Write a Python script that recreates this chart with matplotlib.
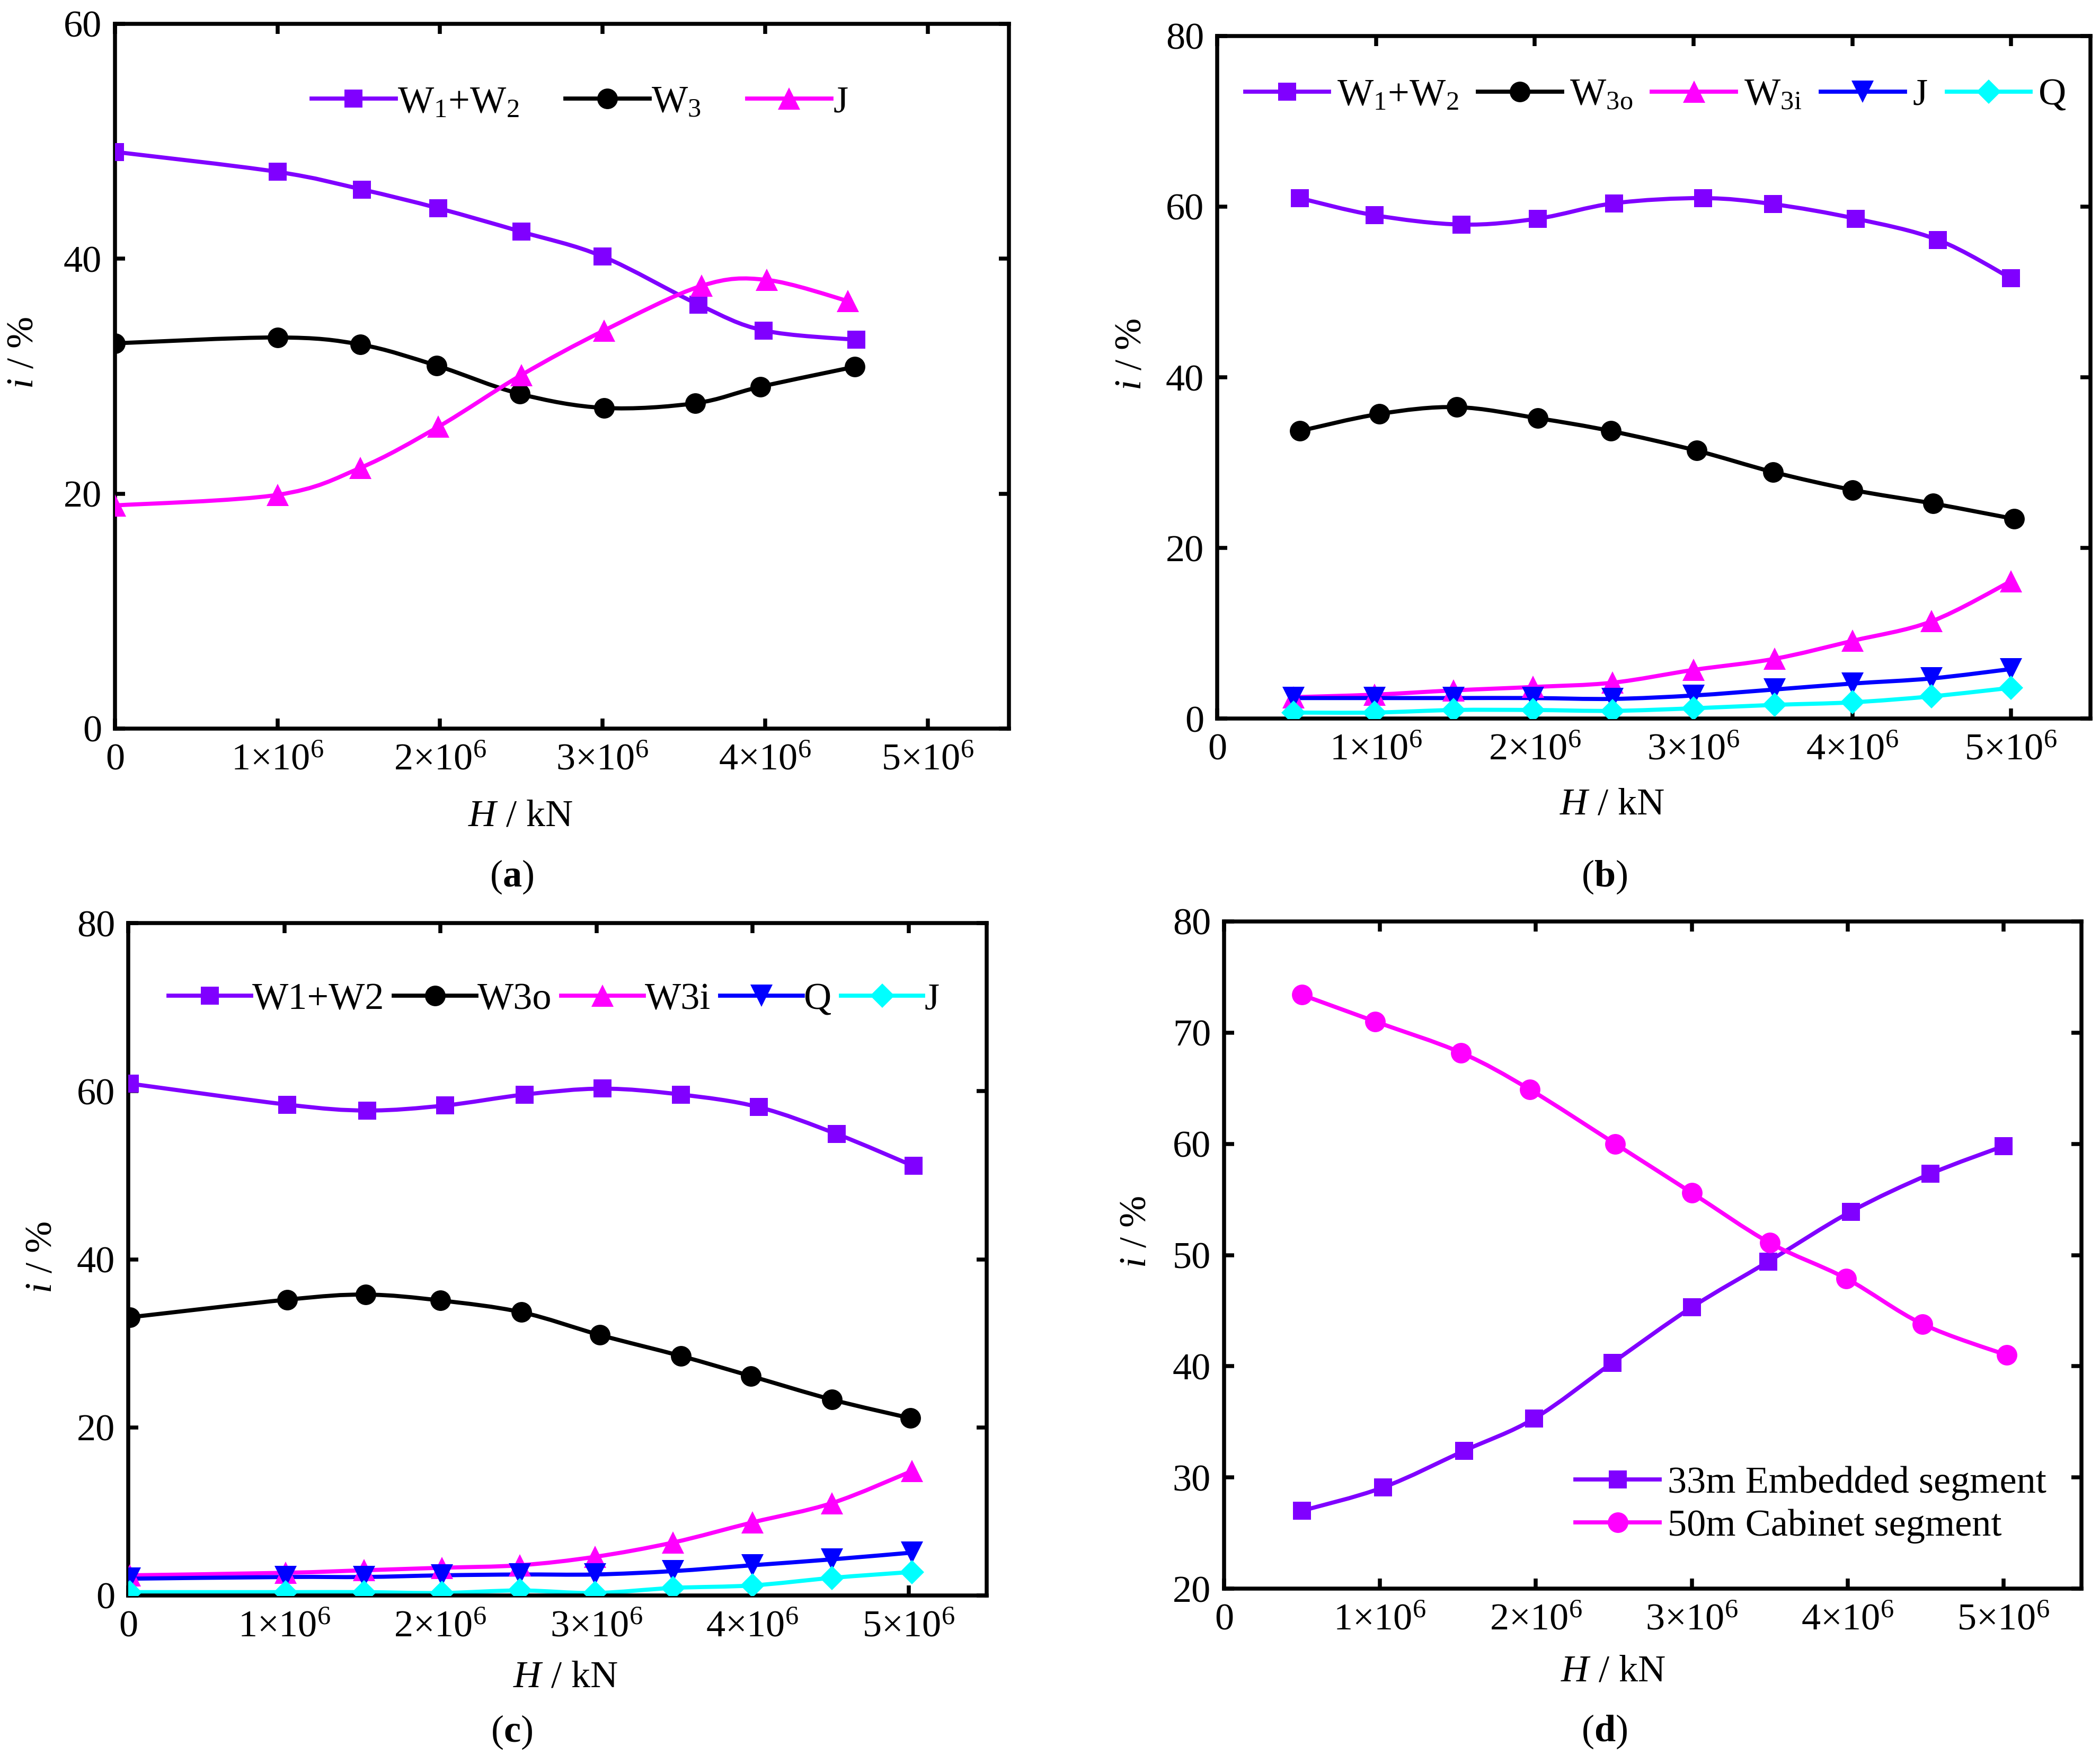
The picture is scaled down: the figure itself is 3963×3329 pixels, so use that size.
import numpy as np
import matplotlib
matplotlib.use("Agg")
import matplotlib.pyplot as plt
from matplotlib.path import Path
from matplotlib.patches import PathPatch
from matplotlib.lines import Line2D

plt.rcParams['font.family'] = ['Liberation Serif', 'DejaVu Serif']
plt.rcParams['mathtext.fontset'] = 'custom'
plt.rcParams['mathtext.rm'] = 'Liberation Serif'
plt.rcParams['mathtext.it'] = 'Liberation Serif:italic'
plt.rcParams['mathtext.bf'] = 'Liberation Serif:bold'

# ---------------- data ----------------
x_ticks = [0, 1e6, 2e6, 3e6, 4e6, 5e6]
x_ticklabels = ['0', '1×10$^6$', '2×10$^6$', '3×10$^6$', '4×10$^6$', '5×10$^6$']

# panel (a)
a_labels = ['W$_1$+W$_2$', 'W$_3$', 'J']
a_x_w12 = [0, 1.00e6, 1.52e6, 1.99e6, 2.50e6, 3.00e6, 3.59e6, 3.99e6, 4.56e6]
a_w12 = [49.1, 47.4, 45.9, 44.3, 42.3, 40.2, 36.1, 33.9, 33.1]
a_x_w3 = [0, 1.00e6, 1.51e6, 1.98e6, 2.49e6, 3.01e6, 3.57e6, 3.97e6, 4.55e6]
a_w3 = [32.8, 33.3, 32.7, 30.9, 28.5, 27.3, 27.7, 29.1, 30.8]
a_x_j = [0, 1.00e6, 1.51e6, 1.99e6, 2.50e6, 3.01e6, 3.61e6, 4.01e6, 4.51e6]
a_j = [19.0, 19.9, 22.2, 25.7, 30.1, 33.9, 37.7, 38.2, 36.4]

# panel (b)
b_labels = ['W$_1$+W$_2$', 'W$_{\\mathrm{3o}}$', 'W$_{\\mathrm{3i}}$', 'J', 'Q']
b_x_w12 = [0.52e6, 0.99e6, 1.54e6, 2.02e6, 2.50e6, 3.06e6, 3.50e6, 4.02e6, 4.54e6, 5.00e6]
b_w12 = [61.0, 59.0, 57.9, 58.6, 60.4, 61.0, 60.3, 58.6, 56.1, 51.6]
b_x_w3o = [0.52e6, 1.02e6, 1.51e6, 2.02e6, 2.48e6, 3.02e6, 3.50e6, 4.00e6, 4.51e6, 5.02e6]
b_w3o = [33.7, 35.7, 36.5, 35.2, 33.7, 31.4, 28.9, 26.8, 25.2, 23.4]
b_x_low = [0.48e6, 0.99e6, 1.49e6, 1.99e6, 2.49e6, 3.00e6, 3.51e6, 4.00e6, 4.50e6, 5.00e6]
b_w3i = [2.5, 2.8, 3.3, 3.7, 4.2, 5.7, 7.0, 9.1, 11.4, 16.1]
b_j = [2.4, 2.4, 2.4, 2.4, 2.3, 2.7, 3.4, 4.1, 4.7, 5.8]
b_q = [0.7, 0.7, 1.0, 1.0, 0.9, 1.2, 1.6, 1.9, 2.6, 3.6]

# panel (c)
c_labels = ['W1+W2', 'W3o', 'W3i', 'Q', 'J']
c_x_w12 = [0.01e6, 1.02e6, 1.53e6, 2.03e6, 2.54e6, 3.04e6, 3.54e6, 4.04e6, 4.54e6, 5.03e6]
c_w12 = [60.9, 58.4, 57.7, 58.3, 59.6, 60.3, 59.6, 58.1, 54.9, 51.1]
c_x_w3o = [0.01e6, 1.02e6, 1.52e6, 2.00e6, 2.52e6, 3.02e6, 3.54e6, 3.99e6, 4.51e6, 5.01e6]
c_w3o = [33.1, 35.2, 35.8, 35.1, 33.7, 31.0, 28.5, 26.1, 23.3, 21.1]
c_x_low = [0.01e6, 1.01e6, 1.51e6, 2.01e6, 2.51e6, 2.99e6, 3.49e6, 4.00e6, 4.51e6, 5.02e6]
c_w3i = [2.4, 2.7, 3.0, 3.3, 3.6, 4.6, 6.3, 8.7, 11.0, 14.8]
c_q = [2.0, 2.2, 2.2, 2.4, 2.5, 2.5, 2.9, 3.6, 4.3, 5.1]
c_j = [0.4, 0.4, 0.4, 0.3, 0.6, 0.3, 0.9, 1.2, 2.1, 2.8]

# panel (d)
d_labels = ['33m Embedded segment', '50m Cabinet segment']
d_x_emb = [0.50e6, 1.02e6, 1.54e6, 1.99e6, 2.49e6, 3.00e6, 3.49e6, 4.02e6, 4.53e6, 5.00e6]
d_emb = [27.0, 29.1, 32.4, 35.3, 40.3, 45.3, 49.4, 53.9, 57.3, 59.8]
d_x_cab = [0.50e6, 0.97e6, 1.52e6, 1.96e6, 2.51e6, 3.00e6, 3.50e6, 3.99e6, 4.48e6, 5.02e6]
d_cab = [73.4, 71.0, 68.2, 64.9, 60.0, 55.6, 51.1, 47.9, 43.8, 41.0]

# ---------------- style ----------------
PURPLE = '#8000FF'
BLACK = '#000000'
MAGENTA = '#FF00FF'
BLUE = '#0000FF'
CYAN = '#00FFFF'
LW = 5.6
FS = 52
SPINE = 5.4

W, H = 3963, 3329
fig = plt.figure(figsize=(W / 100, H / 100), dpi=100)


def ax_at(l, r, t, b):
    return fig.add_axes([l / W, 1 - b / H, (r - l) / W, (b - t) / H])


def smooth(x, y):
    P = np.column_stack([np.asarray(x, float), np.asarray(y, float)])
    n = len(P)
    verts = [P[0]]
    codes = [Path.MOVETO]
    for i in range(n - 1):
        p0 = P[i - 1] if i > 0 else P[i]
        p1 = P[i]
        p2 = P[i + 1]
        p3 = P[i + 2] if i + 2 < n else P[i + 1]
        verts += [p1 + (p2 - p0) / 6.0, p2 - (p3 - p1) / 6.0, p2]
        codes += [Path.CURVE4] * 3
    return Path(np.array(verts), codes)


MS = {'s': 25, 'o': 28, '^': 30, 'v': 30, 'D': 23}


def series(ax, x, y, color, marker):
    ax.add_patch(PathPatch(smooth(x, y), fill=False, edgecolor=color, lw=LW,
                           capstyle='round', joinstyle='round', zorder=2))
    ax.plot(x, y, ls='none', marker=marker, ms=MS[marker], color=color,
            mec=color, mew=0, zorder=3)
    return Line2D([], [], color=color, lw=LW, marker=marker, ms=MS[marker],
                  mew=0)


def style(ax, ylim, yticks):
    ax.set_xlim(0, 5.5e6)
    ax.set_ylim(*ylim)
    ax.set_xticks(x_ticks)
    ax.set_xticklabels(x_ticklabels)
    ax.set_yticks(yticks)
    ax.minorticks_off()
    ax.tick_params(direction='in', top=True, right=True, length=14,
                   width=SPINE, labelsize=FS)
    ax.tick_params(axis='x', pad=20)
    ax.tick_params(axis='y', pad=18)
    for s in ax.spines.values():
        s.set_linewidth(SPINE)


def ftext(px, py, s, rot=0):
    fig.text(px / W, 1 - py / H, s, fontsize=FS, ha='center', va='center',
             rotation=rot)


# ---- (a)
ax = ax_at(217, 1904, 45, 1375)
h = [series(ax, a_x_w12, a_w12, PURPLE, 's'),
     series(ax, a_x_w3, a_w3, BLACK, 'o'),
     series(ax, a_x_j, a_j, MAGENTA, '^')]
style(ax, (0, 60), [0, 20, 40, 60])
ax.legend(h, a_labels, loc='center', bbox_to_anchor=(0.52, 0.888), ncol=3,
          frameon=False, fontsize=FS, handlelength=2.2, handletextpad=0.05,
          columnspacing=1.2, borderpad=0, borderaxespad=0)
ftext(982, 1541, '$H$ / kN')
ftext(44, 666, '$i$ / %', rot=90)
ftext(966, 1655, '($\\mathbf{a}$)')

# ---- (b)
ax = ax_at(2297, 3945, 68, 1356)
h = [series(ax, b_x_w12, b_w12, PURPLE, 's'),
     series(ax, b_x_w3o, b_w3o, BLACK, 'o'),
     series(ax, b_x_low, b_w3i, MAGENTA, '^'),
     series(ax, b_x_low, b_j, BLUE, 'v'),
     series(ax, b_x_low, b_q, CYAN, 'D')]
style(ax, (0, 80), [0, 20, 40, 60, 80])
ax.legend(h, b_labels, loc='center', bbox_to_anchor=(0.502, 0.913), ncol=5,
          frameon=False, fontsize=FS, handlelength=2.2, handletextpad=0.2,
          columnspacing=0.5, borderpad=0, borderaxespad=0)
ftext(3042, 1519, '$H$ / kN')
ftext(2135, 669, '$i$ / %', rot=90)
ftext(3028, 1655, '($\\mathbf{b}$)')

# ---- (c)
ax = ax_at(242, 1862, 1742, 3011)
h = [series(ax, c_x_w12, c_w12, PURPLE, 's'),
     series(ax, c_x_w3o, c_w3o, BLACK, 'o'),
     series(ax, c_x_low, c_w3i, MAGENTA, '^'),
     series(ax, c_x_low, c_q, BLUE, 'v'),
     series(ax, c_x_low, c_j, CYAN, 'D')]
style(ax, (0, 80), [0, 20, 40, 60, 80])
ax.legend(h, c_labels, loc='center', bbox_to_anchor=(0.496, 0.886), ncol=5,
          frameon=False, fontsize=FS, handlelength=2.15, handletextpad=0.03,
          columnspacing=0.25, borderpad=0, borderaxespad=0)
ftext(1067, 3166, '$H$ / kN')
ftext(79, 2373, '$i$ / %', rot=90)
ftext(966, 3269, '($\\mathbf{c}$)')

# ---- (d)
ax = ax_at(2310, 3928, 1739, 2998)
h = [series(ax, d_x_emb, d_emb, PURPLE, 's'),
     series(ax, d_x_cab, d_cab, MAGENTA, 'o')]
style(ax, (20, 80), [20, 30, 40, 50, 60, 70, 80])
ax.legend(h, d_labels, loc='upper left', bbox_to_anchor=(0.41, 0.184), ncol=1,
          frameon=False, fontsize=FS, handlelength=2.2, handletextpad=0.2,
          labelspacing=0.22, borderpad=0, borderaxespad=0)
ftext(3044, 3155, '$H$ / kN')
ftext(2144, 2325, '$i$ / %', rot=90)
ftext(3028, 3268, '($\\mathbf{d}$)')

fig.savefig('out.png', dpi=100)
